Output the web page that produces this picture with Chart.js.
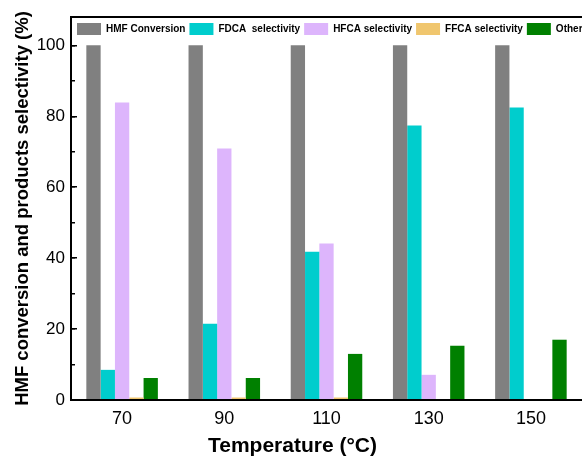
<!DOCTYPE html>
<html>
<head>
<meta charset="utf-8">
<script src="https://cdn.jsdelivr.net/npm/chart.js@4.4.1/dist/chart.umd.min.js"></script>
<style>
  html, body { margin: 0; padding: 0; background: #fff; }
  #wrap { width: 582px; height: 465px; position: relative; }
</style>
</head>
<body>
<div id="wrap"><canvas id="myChart"></canvas></div>
<script>
// Data
const temperatures = ['70', '90', '110', '130', '150'];
const hmfConversion = [100, 100, 100, 100, 100];
const fdcaSelectivity = [8.5, 21.5, 41.8, 77.4, 82.5];
const hfcaSelectivity = [83.9, 70.9, 44.1, 7.1, 0];
const ffcaSelectivity = [0.7, 0.7, 0.7, 0, 0];
const otherSelectivity = [6.2, 6.2, 13.0, 15.3, 17.0];

const yMax = 108;
const fontFamily = "'Liberation Sans', Arial, sans-serif";

// Draw the legend inside the plot box (top-left) instead of above it
const legendInside = {
  id: 'legendInside',
  beforeLayout(chart) {
    const lg = chart.legend;
    if (lg && !lg._patched) {
      const fit = lg.fit;
      lg.fit = function () { fit.call(this); this.height = 0; };
      lg._patched = true;
    }
  },
  afterLayout(chart) {
    const lg = chart.legend;
    lg.left = chart.chartArea.left + 2;
    lg.right = 2000;
    lg.top = chart.chartArea.top + 2;
    lg.bottom = lg.top + 30;
  }
};

// Extra zero-width axis used only for inward tick marks
function tickAxis(step, len, weight) {
  return {
    type: 'linear',
    position: 'left',
    weight: weight,
    min: 0,
    max: yMax,
    ticks: { display: false, stepSize: step, includeBounds: false },
    grid: { drawOnChartArea: false, drawTicks: true, tickLength: -len, color: '#000', lineWidth: 1.5 },
    border: { display: false },
    afterFit: s => { s.width = 0; }
  };
}

const ctx = document.getElementById('myChart');

new Chart(ctx, {
  type: 'bar',
  data: {
    labels: temperatures,
    datasets: [
      { label: 'HMF Conversion', data: hmfConversion, backgroundColor: '#808080' },
      { label: 'FDCA  selectivity', data: fdcaSelectivity, backgroundColor: '#00CDCD' },
      { label: 'HFCA selectivity', data: hfcaSelectivity, backgroundColor: '#DDB5FC' },
      { label: 'FFCA selectivity', data: ffcaSelectivity, backgroundColor: '#F0C66E' },
      { label: 'Other', data: otherSelectivity, backgroundColor: '#008000' }
    ]
  },
  options: {
    responsive: true,
    maintainAspectRatio: false,
    animation: false,
    layout: { padding: { top: 17, right: -3, bottom: 0, left: 0 } },
    datasets: { bar: { categoryPercentage: 0.7, barPercentage: 1.0, borderWidth: 0 } },
    plugins: {
      tooltip: { enabled: false },
      legend: {
        position: 'top',
        align: 'start',
        labels: {
          boxWidth: 24,
          boxHeight: 12,
          padding: 4,
          color: '#000',
          font: { family: fontFamily, size: 10, weight: 'bold' }
        }
      },
      // x axis title, centred on the whole picture like the reference
      title: {
        display: true,
        position: 'bottom',
        text: 'Temperature (°C)',
        color: '#000',
        padding: { top: 6, bottom: 6 },
        font: { family: fontFamily, size: 21, weight: 'bold' }
      }
    },
    scales: {
      x: {
        type: 'category',
        grid: { display: false, drawTicks: false },
        border: { display: true, color: '#000', width: 2, z: 1 },
        ticks: { color: '#000', padding: 8, font: { family: fontFamily, size: 18 } },
        afterFit: s => { s.height = 27.8; }
      },
      xTop: {
        type: 'category',
        position: 'top',
        grid: { display: false, drawTicks: false },
        border: { display: true, color: '#000', width: 2 },
        ticks: { display: false },
        afterFit: s => { s.height = 0; }
      },
      y: {
        type: 'linear',
        min: 0,
        max: yMax,
        grid: { display: false, drawTicks: false },
        border: { display: true, color: '#000', width: 2, z: 1 },
        ticks: { stepSize: 20, includeBounds: false, color: '#000', padding: 6, font: { family: fontFamily, size: 17 } },
        title: {
          display: true,
          text: 'HMF conversion and products selectivity (%)',
          color: '#000',
          padding: { top: 12, bottom: 0 },
          font: { family: fontFamily, size: 18.5, weight: 'bold' }
        },
        afterFit: s => { s.width = 71; }
      },
      yMajor: tickAxis(20, 6, -1),
      yMinor: tickAxis(10, 4, -2)
    }
  },
  plugins: [legendInside]
});
</script>
</body>
</html>
